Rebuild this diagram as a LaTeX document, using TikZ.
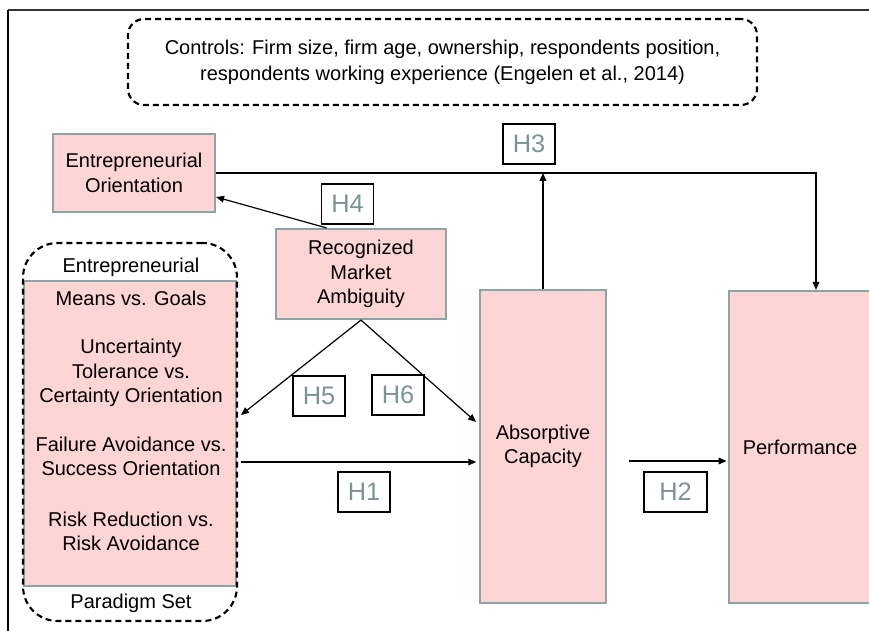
\documentclass[tikz,border=0pt]{standalone}
\usepackage{fontspec}
\setmainfont{Liberation Sans}
\usetikzlibrary{arrows.meta,positioning,calc}
\definecolor{boxpink}{HTML}{FDD5D5}
\definecolor{boxedge}{HTML}{8CA4A4}
\definecolor{hypgray}{HTML}{7B9494}

\begin{document}
\begin{tikzpicture}[x=0.75pt, y=-0.75pt,
    txt/.style={font=\fontsize{15}{18.3}\selectfont, align=center},
    construct/.style={txt, draw=boxedge, line width=1.6pt, fill=boxpink, inner sep=0pt},
    hyp/.style={draw=black, line width=0.9pt, text=hypgray, font=\fontsize{19}{20}\selectfont,
        minimum width=39pt, minimum height=30pt, inner sep=0pt},
    dashbox/.style={draw=black, line width=1.6pt, dash pattern=on 4.5pt off 3pt, inner sep=0pt},
    link/.style={-{Triangle[length=6pt,width=5pt]}, line width=0.9pt}]
    \useasboundingbox (0,0) rectangle (869,631);

    % frame
    \draw[line width=1.5pt, black!80] (8,10) -- (869,10);
    \draw[line width=1.2pt] (8,10) -- (8,631);

    % controls
    \node[dashbox, rounded corners=12pt, minimum width=471.75pt, minimum height=64.5pt,
        font=\fontsize{15}{19.5}\selectfont, align=center] (controls) at (442.5,62)
        {Controls: Firm size, firm age, ownership, respondents position,\\
         respondents working experience (Engelen et al., 2014)};

    % constructs
    \node[construct, minimum width=121.5pt, minimum height=58.5pt] (eo) at (134,173) {Entrepreneurial\\Orientation};
    \node[construct, minimum width=127.5pt, minimum height=67.5pt] (rma) at (361,274) {Recognized\\Market\\Ambiguity};
    \node[construct, minimum width=94.5pt, minimum height=234.75pt] (ac) at (543,446.5) {Absorptive\\Capacity};
    \node[construct, minimum width=106.5pt, minimum height=234pt] (perf) at (800,447) {Performance};

    % paradigm set
    \node[construct, minimum width=159pt, minimum height=228.75pt] (epsbody) at (130,433.5) {};
    \node[dashbox, rounded corners=26pt, minimum width=160.5pt, minimum height=283.5pt] (eps) at (130,432) {};
    \node[txt] (epstop) at (131,267) {Entrepreneurial};
    \node[txt] (epsbot) at (131,603) {Paradigm Set};
    \node[txt] (epslist) at (131,421) {Means vs. Goals\\[18pt]Uncertainty\\Tolerance vs.\\Certainty Orientation\\[18pt]%
        Failure Avoidance vs.\\Success Orientation\\[20pt]Risk Reduction vs.\\Risk Avoidance};

    % hypotheses
    \node[hyp] (h3) at (529,144) {H3};
    \node[hyp] (h4) at (347.5,204) {H4};
    \node[hyp] (h5) at (319,396) {H5};
    \node[hyp] (h6) at (398,395) {H6};
    \node[hyp] (h1) at (364,492) {H1};
    \node[hyp, minimum width=47.25pt] (h2) at (675.5,492) {H2};

    % links
    \coordinate (turn) at (816,173);
    \draw[link] (eo.east) -- (turn) -- (turn |- perf.north);
    \draw[link] (ac.north) -- (ac.north |- eo.east);
    \draw[link] ($(rma.north west)!0.3!(rma.north east)$) -- ($(eo.south east)!0.2!(eo.north east)$);
    \coordinate (h5end) at (241,415);
    \coordinate (h6end) at (476,422);
    \draw[link] (rma.south) -- (h5end);
    \draw[link] (rma.south) -- (h6end);
    \coordinate (h1start) at (241,462);
    \draw[link, shorten >=2pt] (h1start) -- (h1start -| ac.west);
    \coordinate (h2start) at (629,461);
    \draw[link, shorten >=1pt] (h2start) -- (h2start -| perf.west);
\end{tikzpicture}
\end{document}
